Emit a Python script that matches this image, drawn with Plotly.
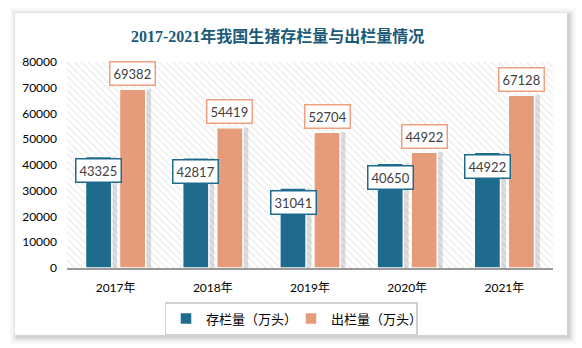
import plotly.graph_objects as go

categories = ["2017年", "2018年", "2019年", "2020年", "2021年"]
stock = [43325, 42817, 31041, 40650, 44922]
slaughter = [69382, 54419, 52704, 44922, 67128]
y_ticks = [0, 10000, 20000, 30000, 40000, 50000, 60000, 70000, 80000]
series_names = ["存栏量（万头）", "出栏量（万头）"]
title_text = "2017-2021年我国生猪存栏量与出栏量情况"

BLUE = "#1E6B8E"
ORANGE = "#E69B7B"
FONT = "Lato, Noto Sans CJK SC, sans-serif"

W, H = 582, 348
ML, MR, MT, MB = 67, 29, 62, 80
PW, PH = W - ML - MR, H - MT - MB


def px_x(x):
    return (x - ML) / PW


def px_y(y):
    return (H - MB - y) / PH


fig = go.Figure()

# hatched plot background
fig.add_trace(go.Bar(
    x=[categories[2]], y=[y_ticks[-1]], width=[len(categories)],
    marker=dict(color="white", line=dict(width=0),
                pattern=dict(shape="\\", fgcolor="#d6d6d6", bgcolor="white", size=5, solidity=0.25)),
    hoverinfo="skip", showlegend=False,
))

bw = 0.27
# shadows
for vals, off in [(stock, -0.31), (slaughter, 0.04)]:
    fig.add_trace(go.Bar(
        x=categories, y=vals, width=bw + 0.05, offset=off + 0.005,
        marker=dict(color="rgba(0,0,0,0.13)", line=dict(width=0)),
        hoverinfo="skip", showlegend=False,
    ))

fig.add_trace(go.Bar(
    x=categories, y=stock, name=series_names[0], width=bw, offset=-0.31,
    marker=dict(color=BLUE, line=dict(color="white", width=1.5)),
))
fig.add_trace(go.Bar(
    x=categories, y=slaughter, name=series_names[1], width=bw, offset=0.04,
    marker=dict(color=ORANGE, line=dict(color="white", width=1.5)),
))

annotations = []
for i, c in enumerate(categories):
    annotations.append(dict(
        x=c, y=stock[i], xref="x", yref="y", text=f"{stock[i]}",
        xshift=-17, yshift=-14, showarrow=False, yanchor="middle",
        font=dict(family=FONT, size=13, color="#404040"),
        bgcolor="white", bordercolor=BLUE, borderwidth=1.5, borderpad=3,
    ))
    annotations.append(dict(
        x=c, y=slaughter[i], xref="x", yref="y", text=f"{slaughter[i]}",
        xshift=17, yshift=16, showarrow=False, yanchor="middle",
        font=dict(family=FONT, size=13, color="#404040"),
        bgcolor="white", bordercolor="#F0A07E", borderwidth=1.5, borderpad=3,
    ))

annotations.append(dict(
    x=px_x(277), y=px_y(36), xref="paper", yref="paper", text=f"<b>{title_text}</b>",
    showarrow=False, xanchor="center", yanchor="middle",
    font=dict(family="Liberation Serif, Noto Sans CJK SC, serif", size=16, color="#1B5A78"),
))

# card with shadow
shapes = []
cx0, cy0, cx1, cy1 = 15, 13, 567, 335
for k, a in [(7, 0.025), (5, 0.035), (3, 0.05), (1.5, 0.07)]:
    shapes.append(dict(
        type="rect", xref="paper", yref="paper", layer="below",
        x0=px_x(cx0 - k + 2), x1=px_x(cx1 + k + 2), y0=px_y(cy1 + k + 2), y1=px_y(cy0 - k + 2),
        fillcolor=f"rgba(0,0,0,{a})", line=dict(width=0),
    ))
shapes.append(dict(
    type="rect", xref="paper", yref="paper", layer="below",
    x0=px_x(cx0), x1=px_x(cx1), y0=px_y(cy1), y1=px_y(cy0),
    fillcolor="white", line=dict(width=0),
))

fig.update_layout(
    width=W, height=H,
    margin=dict(l=ML, r=MR, t=MT, b=MB),
    paper_bgcolor="white", plot_bgcolor="rgba(0,0,0,0)",
    barmode="overlay",
    font=dict(family=FONT, size=12, color="#000000"),
    showlegend=True,
    legend=dict(
        orientation="h", x=px_x(291), y=px_y(302), xanchor="center", yanchor="top",
        bordercolor="#d0d0d0", borderwidth=1.5, bgcolor="white",
        font=dict(family="Noto Sans CJK SC, sans-serif", size=13, color="#000000"),
        itemwidth=30, traceorder="normal", entrywidth=80, entrywidthmode="pixels",
    ),
    xaxis=dict(
        type="category", categoryorder="array", categoryarray=categories,
        range=[-0.5, len(categories) - 0.5],
        showline=True, linecolor="#999999", linewidth=1.5,
        ticks="", showgrid=False, ticklabelstandoff=8,
        tickfont=dict(family=FONT, size=12, color="#000000"),
    ),
    yaxis=dict(
        range=[0, y_ticks[-1]], tickvals=y_ticks, ticktext=[str(v) for v in y_ticks],
        showgrid=False, zeroline=False, showline=False, ticks="",
        ticklabelstandoff=9,
        tickfont=dict(family=FONT, size=12, color="#000000"),
    ),
    annotations=annotations,
    shapes=shapes,
)

fig.write_html("out.html")
